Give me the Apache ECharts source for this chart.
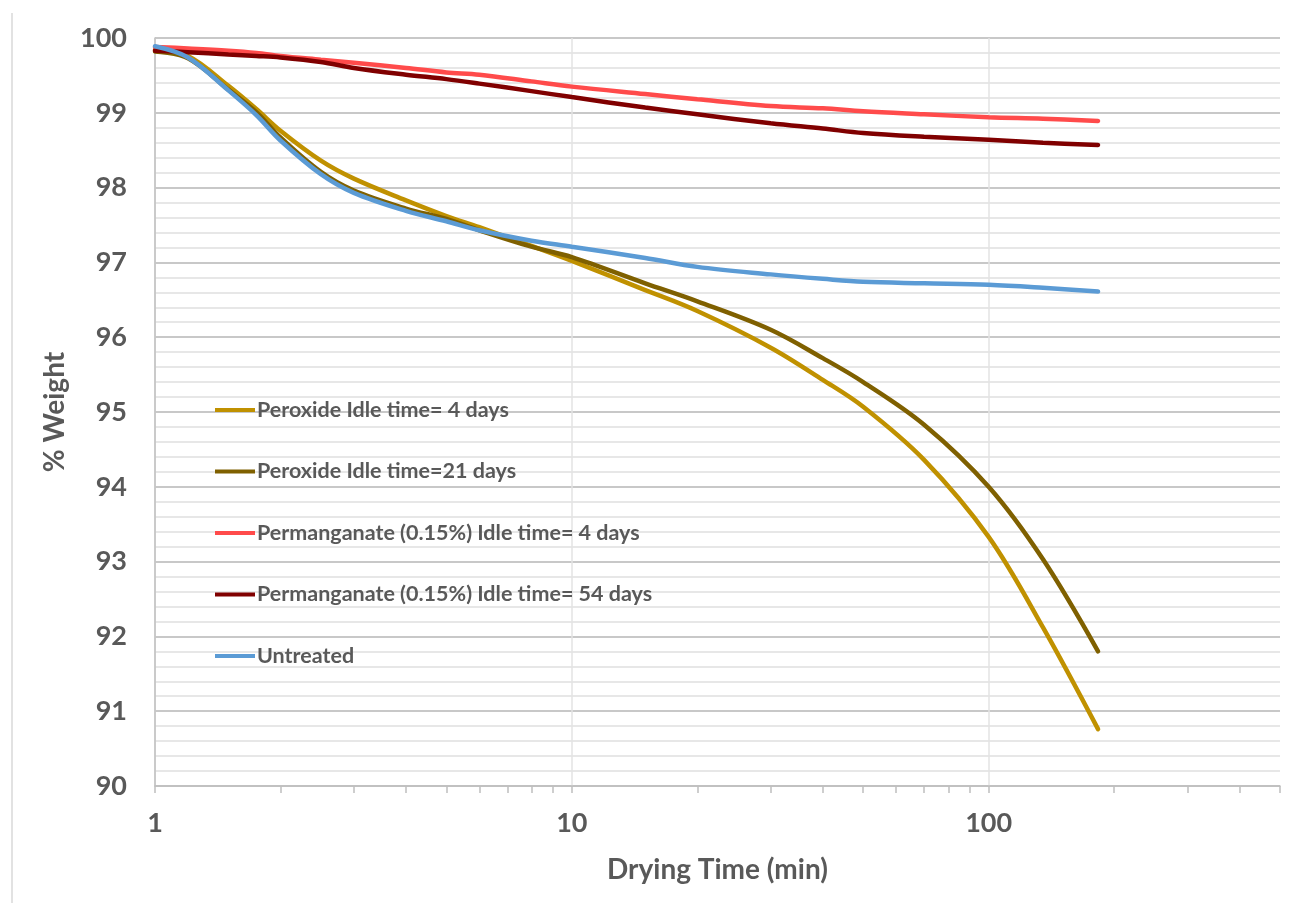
<!DOCTYPE html>
<html>
<head>
<meta charset="utf-8">
<script src="https://cdn.jsdelivr.net/npm/echarts@6/dist/echarts.min.js"></script>
<style>
  html, body { margin: 0; padding: 0; background: #fff; }
  #chart { width: 1311px; height: 903px; }
</style>
</head>
<body>
<div id="chart"></div>
<script>
// drying time (min)
const times = [1, 1.2, 1.5, 1.75, 2, 2.5, 3, 4, 5, 6, 8, 10, 15, 20, 30, 40, 50, 70, 100, 135, 183];

const peroxide4 = [99.84, 99.76, 99.36, 99.05, 98.76, 98.36, 98.12, 97.83, 97.62, 97.47, 97.22, 97.02, 96.63, 96.35, 95.86, 95.43, 95.07, 94.36, 93.33, 92.12, 90.76];
const peroxide21 = [99.82, 99.73, 99.31, 99.01, 98.67, 98.21, 97.96, 97.72, 97.58, 97.43, 97.21, 97.07, 96.72, 96.48, 96.10, 95.72, 95.40, 94.83, 94.00, 93.03, 91.80];
const perm4 = [99.88, 99.86, 99.83, 99.80, 99.76, 99.71, 99.67, 99.60, 99.54, 99.51, 99.42, 99.35, 99.25, 99.18, 99.09, 99.06, 99.02, 98.98, 98.94, 98.92, 98.89];
const perm54 = [99.83, 99.81, 99.78, 99.76, 99.74, 99.68, 99.60, 99.51, 99.45, 99.39, 99.29, 99.21, 99.07, 98.98, 98.86, 98.79, 98.73, 98.68, 98.64, 98.60, 98.57];
const untreated = [99.89, 99.74, 99.30, 98.97, 98.63, 98.18, 97.93, 97.69, 97.55, 97.43, 97.29, 97.21, 97.06, 96.94, 96.84, 96.78, 96.74, 96.72, 96.70, 96.66, 96.61];

const seriesNames = [
  'Peroxide Idle time= 4 days',
  'Peroxide Idle time=21 days',
  'Permanganate (0.15%) Idle time= 4 days',
  'Permanganate (0.15%) Idle time= 54 days',
  'Untreated'
];
const seriesColors = ['#C09100', '#7F6000', '#FF4B4B', '#800000', '#5B9BD5'];

const xTickValues = [1, 2, 3, 4, 5, 6, 7, 8, 9, 10, 20, 30, 40, 50, 60, 70, 80, 90, 100, 200, 300, 400, 500];
const xLabelValues = [1, 10, 100];

const textColor = '#595959';
const fontFam = 'Lato, "Open Sans", sans-serif';

const chart = echarts.init(document.getElementById('chart'));

const allData = [peroxide4, peroxide21, perm4, perm54, untreated];

const option = {
  backgroundColor: '#fff',
  animation: false,
  textStyle: { fontFamily: fontFam },
  grid: { left: 155, right: 31, top: 38, bottom: 117, containLabel: false },
  graphic: [{
    type: 'line',
    shape: { x1: 12, y1: 13, x2: 12, y2: 903 },
    style: { stroke: '#D9D9D9', lineWidth: 1.5 }
  }],
  legend: {
    orient: 'vertical',
    left: 215,
    top: 399,
    padding: 0,
    itemWidth: 40,
    itemHeight: 4,
    itemGap: 39.5,
    icon: 'rect',
    data: seriesNames,
    textStyle: { color: textColor, fontSize: 21.5, fontWeight: 'bold', fontFamily: fontFam, lineHeight: 20, padding: [0, 0, 0, -3] }
  },
  xAxis: [{
    type: 'log',
    logBase: 10,
    min: 1,
    max: 500,
    name: 'Drying Time (min)',
    nameLocation: 'middle',
    nameGap: 70,
    nameTextStyle: { color: textColor, fontSize: 28, fontWeight: 'bold', fontFamily: fontFam },
    axisLine: { show: true, lineStyle: { color: '#BFBFBF', width: 1.5 } },
    axisTick: { show: false },
    axisLabel: { customValues: xLabelValues, color: textColor, fontSize: 27, fontWeight: 'bold', margin: 24, fontFamily: fontFam },
    splitLine: { show: true, lineStyle: { color: ['#E3E3E3', '#E3E3E3', '#E3E3E3', 'rgba(0,0,0,0)'], width: 1.5 } }
  }, {
    // second copy only for the minor log ticks
    type: 'log',
    logBase: 10,
    min: 1,
    max: 500,
    position: 'bottom',
    axisLine: { show: false },
    axisLabel: { show: false },
    splitLine: { show: false },
    axisTick: { show: true, inside: false, length: 7, customValues: xTickValues, lineStyle: { color: '#BFBFBF', width: 1.5 } }
  }],
  yAxis: {
    type: 'value',
    min: 90,
    max: 100,
    interval: 1,
    name: '% Weight',
    nameLocation: 'middle',
    nameGap: 84,
    nameTextStyle: { color: textColor, fontSize: 28, fontWeight: 'bold', fontFamily: fontFam },
    axisLine: { show: true, lineStyle: { color: '#BFBFBF', width: 1.5 } },
    axisTick: { show: false },
    minorTick: { show: false, splitNumber: 5 },
    axisLabel: { color: textColor, fontSize: 27, fontWeight: 'bold', margin: 28, fontFamily: fontFam },
    splitLine: { show: true, lineStyle: { color: '#C8C8C8', width: 2 } },
    minorSplitLine: { show: true, lineStyle: { color: '#E0E0E0', width: 1.5 } }
  },
  series: seriesNames.map((name, i) => ({
    name: name,
    type: 'line',
    xAxisIndex: 0,
    smooth: 0.35,
    symbol: 'none',
    color: seriesColors[i],
    lineStyle: { width: 4.5, color: seriesColors[i], cap: 'round' },
    data: times.map((t, j) => [t, allData[i][j]])
  }))
};

chart.setOption(option);
</script>
</body>
</html>
